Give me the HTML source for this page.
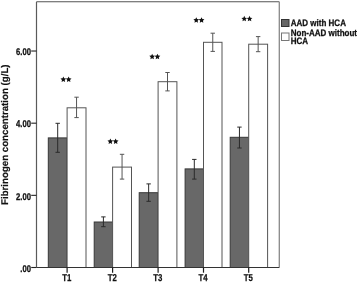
<!DOCTYPE html>
<html><head><meta charset="utf-8"><style>
html,body{margin:0;padding:0;background:#fff;}
svg{display:block;will-change:transform;}
text{text-rendering:geometricPrecision;font-family:"Liberation Sans",sans-serif;font-weight:bold;fill:#111;}
.t{font-size:9.8px;stroke:#111;stroke-width:0.3px;}
.x{font-size:10px;stroke:#111;stroke-width:0.25px;}
.s{font-size:12.5px;}
.yt{font-size:9.7px;stroke:#111;stroke-width:0.2px;}
.l{font-size:8px;stroke:#111;stroke-width:0.25px;}
</style></head><body>
<svg width="358" height="282" viewBox="0 0 358 282">
<rect x="48.30" y="137.90" width="18.80" height="129.60" fill="#686868" stroke="#383838" stroke-width="1"/>
<rect x="67.10" y="107.80" width="18.90" height="159.70" fill="#fff" stroke="#555" stroke-width="1"/>
<rect x="94.20" y="222.00" width="18.40" height="45.50" fill="#686868" stroke="#383838" stroke-width="1"/>
<rect x="112.60" y="167.10" width="18.90" height="100.40" fill="#fff" stroke="#555" stroke-width="1"/>
<rect x="139.20" y="192.70" width="18.90" height="74.80" fill="#686868" stroke="#383838" stroke-width="1"/>
<rect x="158.10" y="81.70" width="18.80" height="185.80" fill="#fff" stroke="#555" stroke-width="1"/>
<rect x="185.10" y="168.90" width="18.40" height="98.60" fill="#686868" stroke="#383838" stroke-width="1"/>
<rect x="203.50" y="42.30" width="18.50" height="225.20" fill="#fff" stroke="#555" stroke-width="1"/>
<rect x="230.20" y="137.30" width="18.50" height="130.20" fill="#686868" stroke="#383838" stroke-width="1"/>
<rect x="248.70" y="44.20" width="18.90" height="223.30" fill="#fff" stroke="#555" stroke-width="1"/>
<path d="M57.70 123.30V152.30M55.50 123.30H59.90M55.50 152.30H59.90" stroke="#2a2a2a" stroke-width="1" fill="none"/>
<path d="M76.55 97.20V117.60M74.35 97.20H78.75M74.35 117.60H78.75" stroke="#555" stroke-width="1" fill="none"/>
<path d="M103.40 216.90V226.70M101.20 216.90H105.60M101.20 226.70H105.60" stroke="#2a2a2a" stroke-width="1" fill="none"/>
<path d="M122.05 154.30V179.10M119.85 154.30H124.25M119.85 179.10H124.25" stroke="#555" stroke-width="1" fill="none"/>
<path d="M148.65 183.90V201.30M146.45 183.90H150.85M146.45 201.30H150.85" stroke="#2a2a2a" stroke-width="1" fill="none"/>
<path d="M167.50 72.50V90.90M165.30 72.50H169.70M165.30 90.90H169.70" stroke="#555" stroke-width="1" fill="none"/>
<path d="M194.30 159.40V179.10M192.10 159.40H196.50M192.10 179.10H196.50" stroke="#2a2a2a" stroke-width="1" fill="none"/>
<path d="M212.75 33.20V51.40M210.55 33.20H214.95M210.55 51.40H214.95" stroke="#555" stroke-width="1" fill="none"/>
<path d="M239.45 127.10V148.00M237.25 127.10H241.65M237.25 148.00H241.65" stroke="#2a2a2a" stroke-width="1" fill="none"/>
<path d="M258.15 36.60V51.70M255.95 36.60H260.35M255.95 51.70H260.35" stroke="#555" stroke-width="1" fill="none"/>
<path d="M36.5 1.8H279.3" stroke="#555" stroke-width="1.1" fill="none"/>
<path d="M279.3 1.8V267.5" stroke="#888" stroke-width="1.3" fill="none"/>
<path d="M36.5 1.8V267.5" stroke="#5a5a5a" stroke-width="1.2" fill="none"/>
<path d="M36.5 267.5H279.3" stroke="#333" stroke-width="1.2" fill="none"/>
<path d="M31.2 51.02H36.5" stroke="#222" stroke-width="1.1"/>
<text transform="translate(31.0 55.32) scale(0.78 1)" text-anchor="end" class="t">6.00</text>
<path d="M31.2 123.18H36.5" stroke="#222" stroke-width="1.1"/>
<text transform="translate(31.0 127.48) scale(0.78 1)" text-anchor="end" class="t">4.00</text>
<path d="M31.2 195.34H36.5" stroke="#222" stroke-width="1.1"/>
<text transform="translate(31.0 199.64) scale(0.78 1)" text-anchor="end" class="t">2.00</text>
<path d="M31.2 267.50H36.5" stroke="#222" stroke-width="1.1"/>
<text transform="translate(31.0 271.80) scale(0.78 1)" text-anchor="end" class="t">.00</text>
<path d="M67.10 267.5V272.7" stroke="#1a1a1a" stroke-width="1.2"/>
<text transform="translate(66.70 280.5) scale(0.78 1)" text-anchor="middle" class="x">T1</text>
<path d="M112.60 267.5V272.7" stroke="#1a1a1a" stroke-width="1.2"/>
<text transform="translate(112.20 280.5) scale(0.78 1)" text-anchor="middle" class="x">T2</text>
<path d="M158.10 267.5V272.7" stroke="#1a1a1a" stroke-width="1.2"/>
<text transform="translate(157.70 280.5) scale(0.78 1)" text-anchor="middle" class="x">T3</text>
<path d="M203.50 267.5V272.7" stroke="#1a1a1a" stroke-width="1.2"/>
<text transform="translate(203.10 280.5) scale(0.78 1)" text-anchor="middle" class="x">T4</text>
<path d="M248.70 267.5V272.7" stroke="#1a1a1a" stroke-width="1.2"/>
<text transform="translate(248.30 280.5) scale(0.78 1)" text-anchor="middle" class="x">T5</text>
<path d="M63.35,76.45 L64.20,78.28 L66.20,78.52 L64.73,79.90 L65.11,81.88 L63.35,80.90 L61.59,81.88 L61.97,79.90 L60.50,78.52 L62.50,78.28ZM68.65,76.45 L69.50,78.28 L71.50,78.52 L70.03,79.90 L70.41,81.88 L68.65,80.90 L66.89,81.88 L67.27,79.90 L65.80,78.52 L67.80,78.28Z" fill="#111"/>
<path d="M110.35,138.45 L111.20,140.28 L113.20,140.52 L111.73,141.90 L112.11,143.88 L110.35,142.90 L108.59,143.88 L108.97,141.90 L107.50,140.52 L109.50,140.28ZM115.65,138.45 L116.50,140.28 L118.50,140.52 L117.03,141.90 L117.41,143.88 L115.65,142.90 L113.89,143.88 L114.27,141.90 L112.80,140.52 L114.80,140.28Z" fill="#111"/>
<path d="M152.15,53.75 L153.00,55.58 L155.00,55.82 L153.53,57.20 L153.91,59.18 L152.15,58.20 L150.39,59.18 L150.77,57.20 L149.30,55.82 L151.30,55.58ZM157.45,53.75 L158.30,55.58 L160.30,55.82 L158.83,57.20 L159.21,59.18 L157.45,58.20 L155.69,59.18 L156.07,57.20 L154.60,55.82 L156.60,55.58Z" fill="#111"/>
<path d="M196.25,17.25 L197.10,19.08 L199.10,19.32 L197.63,20.70 L198.01,22.68 L196.25,21.70 L194.49,22.68 L194.87,20.70 L193.40,19.32 L195.40,19.08ZM201.55,17.25 L202.40,19.08 L204.40,19.32 L202.93,20.70 L203.31,22.68 L201.55,21.70 L199.79,22.68 L200.17,20.70 L198.70,19.32 L200.70,19.08Z" fill="#111"/>
<path d="M244.25,15.85 L245.10,17.68 L247.10,17.92 L245.63,19.30 L246.01,21.28 L244.25,20.30 L242.49,21.28 L242.87,19.30 L241.40,17.92 L243.40,17.68ZM249.55,15.85 L250.40,17.68 L252.40,17.92 L250.93,19.30 L251.31,21.28 L249.55,20.30 L247.79,21.28 L248.17,19.30 L246.70,17.92 L248.70,17.68Z" fill="#111"/>
<text transform="translate(7.6 134.7) rotate(-90)" text-anchor="middle" class="yt">Fibrinogen concentration (g/L)</text>
<rect x="281.5" y="19.5" width="7.5" height="7" fill="#666" stroke="#333" stroke-width="1"/>
<rect x="281.5" y="33" width="7.5" height="7.5" fill="#fff" stroke="#777" stroke-width="1"/>
<text transform="translate(290.8 26.3) scale(1 1.17)" class="l">AAD with HCA</text>
<text transform="translate(290.8 35.9) scale(1 1.17)" class="l">Non-AAD without</text>
<text transform="translate(290.8 43.6) scale(1 1.17)" class="l">HCA</text>
</svg>
</body></html>
